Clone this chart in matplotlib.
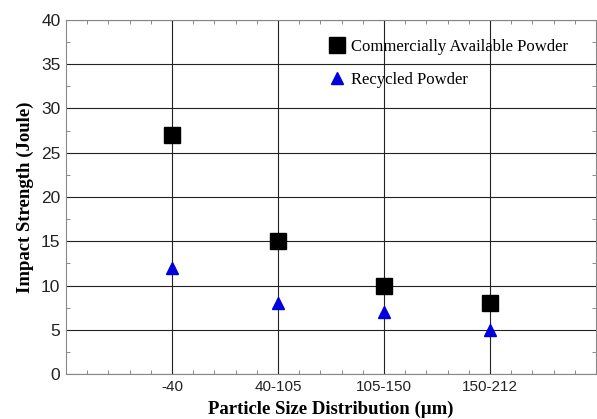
import matplotlib
matplotlib.use("Agg")
import matplotlib.pyplot as plt
from matplotlib.ticker import MultipleLocator

categories = ["-40", "40-105", "105-150", "150-212"]
commercial = [27, 15, 10, 8]
recycled = [12, 8, 7, 5]

fig = plt.figure(figsize=(5.97, 4.19), dpi=100)
ax = fig.add_axes([66/597, 1-374/419, 530/597, 354/419])

x = list(range(1, len(categories)+1))
ax.plot(x, commercial, linestyle="none", marker="s", markersize=11, color="black",
        label="Commercially Available Powder", zorder=3)
ax.plot(x, recycled, linestyle="none", marker="^", markersize=8.5, color="#0000dd",
        label="Recycled Powder", zorder=3)

ax.set_xlim(0, 5)
ax.set_ylim(0, 40)
ax.set_xticks(x)
ax.set_xticklabels(categories, fontfamily="Liberation Sans", fontsize=11)
ax.xaxis.set_minor_locator(MultipleLocator(0.2))
ax.yaxis.set_major_locator(MultipleLocator(5))
ax.yaxis.set_minor_locator(MultipleLocator(2.5))
for lab in ax.get_yticklabels():
    lab.set_fontfamily("Liberation Sans")
    lab.set_fontsize(12.5)

ax.tick_params(which="major", direction="in", length=0, top=True, right=True, colors="#555555", labelcolor="#222222")
ax.tick_params(which="minor", direction="in", length=3, top=True, right=True, colors="#777777")
ax.tick_params(axis="x", pad=4)
ax.tick_params(axis="y", pad=4)
ax.grid(True, which="major", color="#222222", linewidth=0.8)
ax.set_axisbelow(True)
for s in ax.spines.values():
    s.set_color("#888888")
    s.set_linewidth(0.8)

ax.set_xlabel("Particle Size Distribution (µm)", fontfamily="Liberation Serif",
              fontweight="bold", fontsize=13.5, labelpad=5)
ax.set_ylabel("Impact Strength (Joule)", fontfamily="Liberation Serif",
              fontweight="bold", fontsize=13.5, labelpad=5)

leg = ax.legend(loc="upper right", bbox_to_anchor=(0.975, 0.988), frameon=False,
                prop={"family": "Liberation Serif", "size": 12},
                handletextpad=0.2, labelspacing=1.0, handlelength=1.2)

fig.savefig("out.png", dpi=100)
